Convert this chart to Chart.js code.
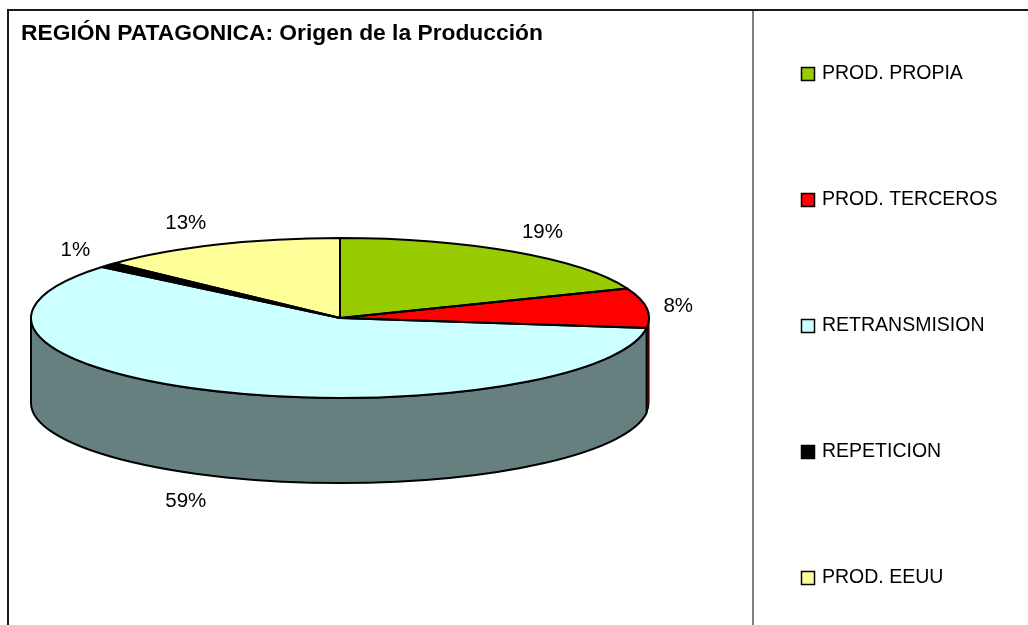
<!DOCTYPE html>
<html>
<head>
<meta charset="utf-8">
<script src="https://cdn.jsdelivr.net/npm/chart.js@4/dist/chart.umd.min.js"></script>
<style>
html,body{margin:0;padding:0;background:#fff;overflow:hidden;width:1028px;height:625px}
#wrap{position:relative;width:1028px;height:640px}
canvas{display:block}
</style>
</head>
<body>
<div id="wrap"><canvas id="c" width="1028" height="640"></canvas></div>
<script>
// ---- data ----
const chartTitle = 'REGIÓN PATAGONICA: Origen de la Producción';
const categories = ['PROD. PROPIA', 'PROD. TERCEROS', 'RETRANSMISION', 'REPETICION', 'PROD. EEUU'];
const values = [19, 8, 59, 1, 13];
const colors = ['#99CC00', '#FF0000', '#CCFFFF', '#000000', '#FFFF99'];

// ---- style constants ----
const TILT = 80 / 309;
const DEPTH = 85;
const FONT = '"Liberation Sans", Arial, Helvetica, sans-serif';

function shade(hex) {
  const n = parseInt(hex.slice(1), 16);
  const r = (n >> 16) & 255, g = (n >> 8) & 255, b = n & 255;
  return 'rgb(' + Math.round(r / 2) + ',' + Math.round(g / 2) + ',' + Math.round(b / 2) + ')';
}
function arcProps(chart) {
  return chart.getDatasetMeta(0).data.map(a => a.getProps(['x', 'y', 'startAngle', 'endAngle', 'outerRadius'], true));
}
function frontSegments(s, e) {
  const segs = [];
  for (const [lo, hi] of [[-2 * Math.PI, -Math.PI], [0, Math.PI], [2 * Math.PI, 3 * Math.PI]]) {
    const a = Math.max(s, lo), b = Math.min(e, hi);
    if (b > a) segs.push([a, b]);
  }
  return segs;
}

const pie3d = {
  id: 'pie3d',
  beforeDatasetsDraw(chart) {
    const ctx = chart.ctx;
    const arcs = arcProps(chart);
    const cx = arcs[0].x, cy = arcs[0].y, r = arcs[0].outerRadius, ry = r * TILT;
    ctx.save();
    ctx.strokeStyle = '#000';
    ctx.lineJoin = 'round';
    arcs.forEach((a, i) => {
      frontSegments(a.startAngle, a.endAngle).forEach(([s, e]) => {
        ctx.beginPath();
        ctx.ellipse(cx, cy, r, ry, 0, s, e);
        ctx.lineTo(cx + r * Math.cos(e), cy + ry * Math.sin(e) + DEPTH);
        ctx.ellipse(cx, cy + DEPTH, r, ry, 0, e, s, true);
        ctx.closePath();
        ctx.fillStyle = shade(colors[i]);
        ctx.fill();
        ctx.lineWidth = (e - s) < 0.2 ? 1 : 2;
        ctx.stroke();
      });
    });
    ctx.restore();
    ctx.save();
    ctx.translate(cx, cy);
    ctx.scale(1, TILT);
    ctx.translate(-cx, -cy);
  },
  afterDatasetsDraw(chart) {
    const ctx = chart.ctx;
    ctx.restore();
    const arcs = arcProps(chart);
    const cx = arcs[0].x, cy = arcs[0].y, r = arcs[0].outerRadius, ry = r * TILT;
    ctx.save();
    ctx.lineWidth = 2;
    ctx.strokeStyle = '#000';
    ctx.lineJoin = 'round';
    arcs.forEach(a => {
      ctx.beginPath();
      ctx.moveTo(cx, cy);
      ctx.lineTo(cx + r * Math.cos(a.startAngle), cy + ry * Math.sin(a.startAngle));
      ctx.ellipse(cx, cy, r, ry, 0, a.startAngle, a.endAngle);
      ctx.closePath();
      ctx.stroke();
    });
    // percentage labels
    const total = values.reduce((p, q) => p + q, 0);
    ctx.fillStyle = '#000';
    ctx.font = '20.5px ' + FONT;
    ctx.textAlign = 'left';
    ctx.textBaseline = 'alphabetic';
    const capH = 14.5;
    arcs.forEach((a, i) => {
      const m = (a.startAngle + a.endAngle) / 2;
      const c = Math.cos(m), s = Math.sin(m);
      let ex = cx + r * c, ey = cy + ry * s;
      if (s > 0) ey += DEPTH;
      const px = ex + 20 * c - 3, py = ey + 18 * s;
      const txt = Math.round(values[i] / total * 100) + '%';
      const w = ctx.measureText(txt).width;
      const bx = c >= 0 ? px : px - w;
      const by = py + capH * (1 + s) / 2;
      ctx.fillText(txt, bx, by);
    });
    ctx.restore();
  },
  afterDraw(chart) {
    const ctx = chart.ctx;
    ctx.save();
    // frame lines
    ctx.fillStyle = '#1a1a1a';
    ctx.fillRect(8, 9, 1020, 2);
    ctx.fillRect(7, 9, 2, 640);
    ctx.fillStyle = '#808080';
    ctx.fillRect(752, 11, 2, 640);
    // title
    ctx.fillStyle = '#000';
    ctx.font = 'bold 22.8px ' + FONT;
    ctx.textAlign = 'left';
    ctx.textBaseline = 'alphabetic';
    ctx.fillText(chartTitle, 21, 40);
    // legend
    ctx.font = '19.5px ' + FONT;
    ctx.textBaseline = 'middle';
    categories.forEach((lab, i) => {
      const yc = 74 + i * 126;
      ctx.fillStyle = colors[i];
      ctx.fillRect(801.5, yc - 6.5, 13, 13);
      ctx.strokeStyle = '#000';
      ctx.lineWidth = 1.5;
      ctx.strokeRect(801.5, yc - 6.5, 13, 13);
      ctx.fillStyle = '#000';
      ctx.fillText(lab, 822, yc);
    });
    ctx.restore();
  }
};

new Chart(document.getElementById('c'), {
  type: 'pie',
  data: {
    labels: categories,
    datasets: [{
      data: values,
      backgroundColor: colors,
      borderWidth: 0,
      hoverOffset: 0
    }]
  },
  options: {
    responsive: false,
    animation: false,
    events: [],
    devicePixelRatio: 1,
    layout: { padding: { left: 31, right: 379, top: 9, bottom: 13 } },
    plugins: {
      legend: { display: false },
      title: { display: false },
      tooltip: { enabled: false }
    }
  },
  plugins: [pie3d]
});
</script>
</body>
</html>
